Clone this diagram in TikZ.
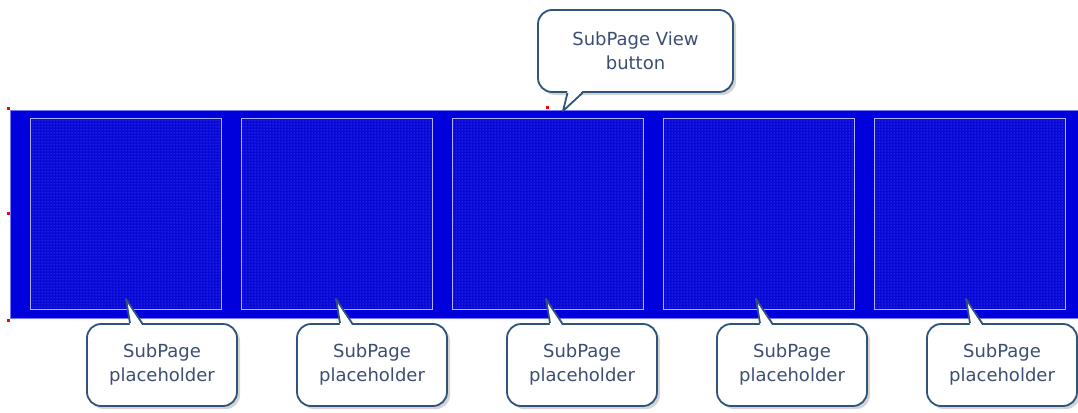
\documentclass[tikz,border=0pt]{standalone}
\usepackage{fontspec}
\setmainfont{DejaVu Sans}
\usetikzlibrary{shadows,patterns,calc}
\definecolor{panelblue}{RGB}{0,0,220}
\definecolor{paneledge}{RGB}{120,120,255}
\definecolor{cellblue}{RGB}{8,8,215}
\definecolor{dotblue}{RGB}{95,105,245}
\definecolor{cellborder}{RGB}{175,175,250}
\definecolor{calloutborder}{RGB}{46,84,124}
\definecolor{callouttext}{RGB}{62,78,115}
\begin{document}
\begin{tikzpicture}[x=1pt,y=-1pt,
  panel/.style={fill=panelblue, draw=paneledge, line width=0.8pt},
  cell/.style={fill=cellblue, draw=cellborder, line width=0.8pt},
  cellpattern/.style={pattern=dots, pattern color=dotblue},
  bubble/.style={draw=calloutborder, line width=1.8pt, fill=white, rounded corners=14pt,
    minimum height=82pt, align=center, inner sep=0pt,
    font=\fontsize{18}{24}\selectfont, text=callouttext,
    drop shadow={shadow xshift=3pt, shadow yshift=-3pt, opacity=0.35}},
  tailline/.style={draw=calloutborder, line width=1.8pt, line join=round},
  handle/.style={fill=red, draw=none}
]
\useasboundingbox (0,0) rectangle (1078,412);
% panel
\draw[panel] (10,110.5) rectangle (1080,318.5);
% cells
\foreach \i in {0,...,4} {
  \pgfmathsetmacro\cx{30+211*\i}
  \fill[cell] (\cx,118) rectangle ++(191,191);
  \fill[cellpattern] (\cx,118) rectangle ++(191,191);
  \draw[cell, fill=none] (\cx,118) rectangle ++(191,191);
}
% selection handles
\fill[handle] (6.5,106.5) rectangle ++(3,3);
\fill[handle] (6.5,211.5) rectangle ++(3,3);
\fill[handle] (6.5,318.5) rectangle ++(3,3);
\fill[handle] (546,106) rectangle ++(3,3);
% top callout
\node[bubble, minimum width=195pt] (top) at (635.5,51) {SubPage View\\button};
\coordinate (toptip) at (563,111);
\fill[white] ($(top.south)+(-68,-2)$) -- (toptip) -- ($(top.south)+(-53,-2)$) -- cycle;
\draw[tailline] ($(top.south)+(-68,0)$) -- (toptip) -- ($(top.south)+(-53,0)$);
% bottom callouts
\foreach \i in {0,...,4} {
  \pgfmathsetmacro\bx{162+210*\i}
  \node[bubble, minimum width=150pt] (b\i) at (\bx,365) {SubPage\\placeholder};
  \coordinate (t\i) at (\bx-36,299);
  \fill[white] ($(b\i.north)+(-32,2)$) -- (t\i) -- ($(b\i.north)+(-20,2)$) -- cycle;
  \draw[tailline] ($(b\i.north)+(-32,0)$) -- (t\i) -- ($(b\i.north)+(-20,0)$);
}
\end{tikzpicture}
\end{document}
